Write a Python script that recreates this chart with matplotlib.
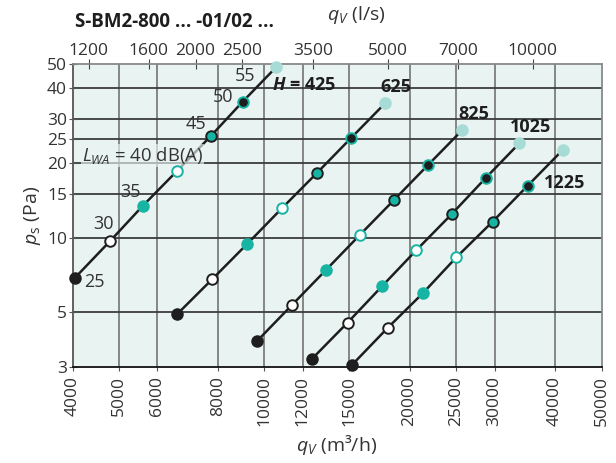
from matplotlib import pyplot as plt
from matplotlib import ticker

# sound power level at each marker (dB(A))
LWA = [25, 30, 35, 40, 45, 50, 55]

H_LABELS = ["425", "625", "825", "1025", "1225"]

# airflow (m3/h) and static pressure (Pa) per plenum height H
Q_425 = [4050, 4790, 5590, 6580, 7750, 9020, 10570]
P_425 = [6.9, 9.7, 13.4, 18.5, 25.7, 35.3, 48.5]
Q_625 = [6600, 7800, 9220, 10860, 12830, 15100, 17780]
P_625 = [4.93, 6.81, 9.45, 13.1, 18.15, 25.1, 34.7]
Q_825 = [9650, 11390, 13400, 15800, 18590, 21870, 25720]
P_825 = [3.83, 5.34, 7.39, 10.29, 14.21, 19.66, 27.1]
Q_1025 = [12530, 14880, 17530, 20640, 24430, 28800, 33770]
P_1025 = [3.24, 4.55, 6.37, 8.89, 12.41, 17.43, 23.97]
Q_1225 = [15210, 18010, 21320, 25000, 29720, 35150, 41540]
P_1225 = [3.08, 4.33, 5.98, 8.33, 11.59, 16.18, 22.53]

X_TICKS = [4000, 5000, 6000, 8000, 10000, 12000, 15000, 20000, 25000, 30000, 40000, 50000]
X_TICKS_LS = [1200, 1600, 2000, 2500, 3500, 5000, 7000, 10000]
Y_TICKS = [3, 5, 10, 15, 20, 25, 30, 40, 50]

BG = "#e9f4f2"
TEAL = "#17b3a3"
PALE = "#a6dcd5"
DARK = "#1e1e1e"
TXT = "#333333"

# face, edge for each dB level
STYLES = [
    (DARK, DARK),
    ("white", DARK),
    (TEAL, TEAL),
    ("white", TEAL),
    (TEAL, DARK),
    (DARK, TEAL),
    (PALE, PALE),
]

FONT = "Open Sans"


def go():
    plt.rcParams["font.family"] = [FONT, "DejaVu Sans"]
    plt.rcParams["mathtext.fontset"] = "custom"
    plt.rcParams["mathtext.rm"] = FONT
    plt.rcParams["mathtext.it"] = FONT + ":italic"
    plt.rcParams["mathtext.bf"] = FONT + ":bold"
    plt.rcParams["mathtext.bfit"] = FONT + ":italic:bold"

    fig = plt.figure(figsize=(6.16, 4.63), dpi=100)
    ax = fig.add_axes([0.1177, 0.2063, 0.8588, 0.6555])
    ax.set_facecolor(BG)
    ax.set_xscale("log")
    ax.set_yscale("log")
    ax.set_xlim(4000, 50000)
    ax.set_ylim(3, 50)

    for x in X_TICKS[1:-1]:
        ax.axvline(x, color="#7d7d7d", lw=1.3, zorder=1)
    for y in Y_TICKS[1:-1]:
        ax.axhline(y, color="#3c3c3c", lw=1.3, zorder=1)

    ax.set_xticks(X_TICKS)
    ax.set_xticklabels([str(v) for v in X_TICKS], rotation=90)
    ax.xaxis.set_minor_locator(ticker.NullLocator())
    ax.set_yticks(Y_TICKS)
    ax.set_yticklabels([str(v) for v in Y_TICKS])
    ax.yaxis.set_minor_locator(ticker.NullLocator())
    ax.tick_params(axis="x", direction="out", length=3, color="#555555",
                   labelsize=12.5, labelcolor=TXT, pad=3)
    ax.tick_params(axis="y", direction="inout", length=6, color="#555555",
                   labelsize=12.5, labelcolor=TXT, pad=1)

    for side, col in [("bottom", "#111111"), ("left", "#555555"),
                      ("top", "#888888"), ("right", "#888888")]:
        ax.spines[side].set_color(col)
        ax.spines[side].set_linewidth(1.3)

    top = ax.secondary_xaxis("top", functions=(lambda q: q / 3.6, lambda q: q * 3.6))
    top.set_xticks(X_TICKS_LS)
    top.set_xticklabels([str(v) for v in X_TICKS_LS])
    top.xaxis.set_minor_locator(ticker.NullLocator())
    top.tick_params(direction="inout", length=7, color="#444444",
                    labelsize=12.5, labelcolor=TXT, pad=0)
    top.spines["top"].set_visible(False)

    series = [(Q_425, P_425), (Q_625, P_625), (Q_825, P_825),
              (Q_1025, P_1025), (Q_1225, P_1225)]
    for q, p in series:
        ax.plot(q, p, color=DARK, lw=1.8, zorder=3, solid_capstyle="butt")
        for i in range(len(q)):
            face, edge = STYLES[i]
            ax.plot(q[i], p[i], "o", ms=7.6, mfc=face, mec=edge, mew=1.4,
                    zorder=4, clip_on=False)

    # dB labels along the H = 425 line
    offsets = [(14, -3), (-5, 12), (-9, 10), None, (-11, 8.5), (-14, 3), (-22, -6.5)]
    for i, off in enumerate(offsets):
        if off is None:
            continue
        ax.annotate(str(LWA[i]), (Q_425[i], P_425[i]), xytext=off,
                    textcoords="offset points", ha="center", va="center",
                    fontsize=13, color=TXT, zorder=5)
    ax.annotate(r"$L_{WA}$ = 40 dB(A)", (Q_425[3], P_425[3]), xytext=(-68, 11.5),
                textcoords="offset points", ha="left", va="center",
                fontsize=13.3, color=TXT, zorder=3.5,
                bbox=dict(boxstyle="square,pad=0.05", fc=BG, ec="none", alpha=0.65))

    # height labels
    ax.annotate(r"$\mathbfit{H}$ = 425", (Q_425[-1], P_425[-1]), xytext=(-3, -12.7),
                textcoords="offset points", ha="left", va="center",
                fontsize=13, fontweight="bold", color=DARK, zorder=5)
    for q, p, lab in [(Q_625, P_625, "625"), (Q_825, P_825, "825"),
                      (Q_1025, P_1025, "1025")]:
        ax.annotate(lab, (q[-1], p[-1]), xytext=(8, 11.5),
                    textcoords="offset points", ha="center", va="center",
                    fontsize=13, fontweight="bold", color=DARK, zorder=5)
    ax.annotate("1225", (Q_1225[5], P_1225[5]), xytext=(26.5, 2.2),
                textcoords="offset points", ha="center", va="center",
                fontsize=13, fontweight="bold", color=DARK, zorder=5)

    ax.set_xlabel(r"$q_V$ (m³/h)", fontsize=14, color=TXT, labelpad=5)
    ax.set_ylabel(r"$p_{\rm s}$ (Pa)", fontsize=14, color=TXT, labelpad=3)
    fig.text(0.578, 0.967, r"$q_V$ (l/s)", fontsize=14, color=TXT,
             ha="center", va="center")
    fig.text(0.122, 0.952, "S-BM2-800 ... -01/02 ...", fontsize=13.5,
             fontweight="bold", color=DARK, ha="left", va="center")

    fig.savefig("out.png", dpi=100)


go()
